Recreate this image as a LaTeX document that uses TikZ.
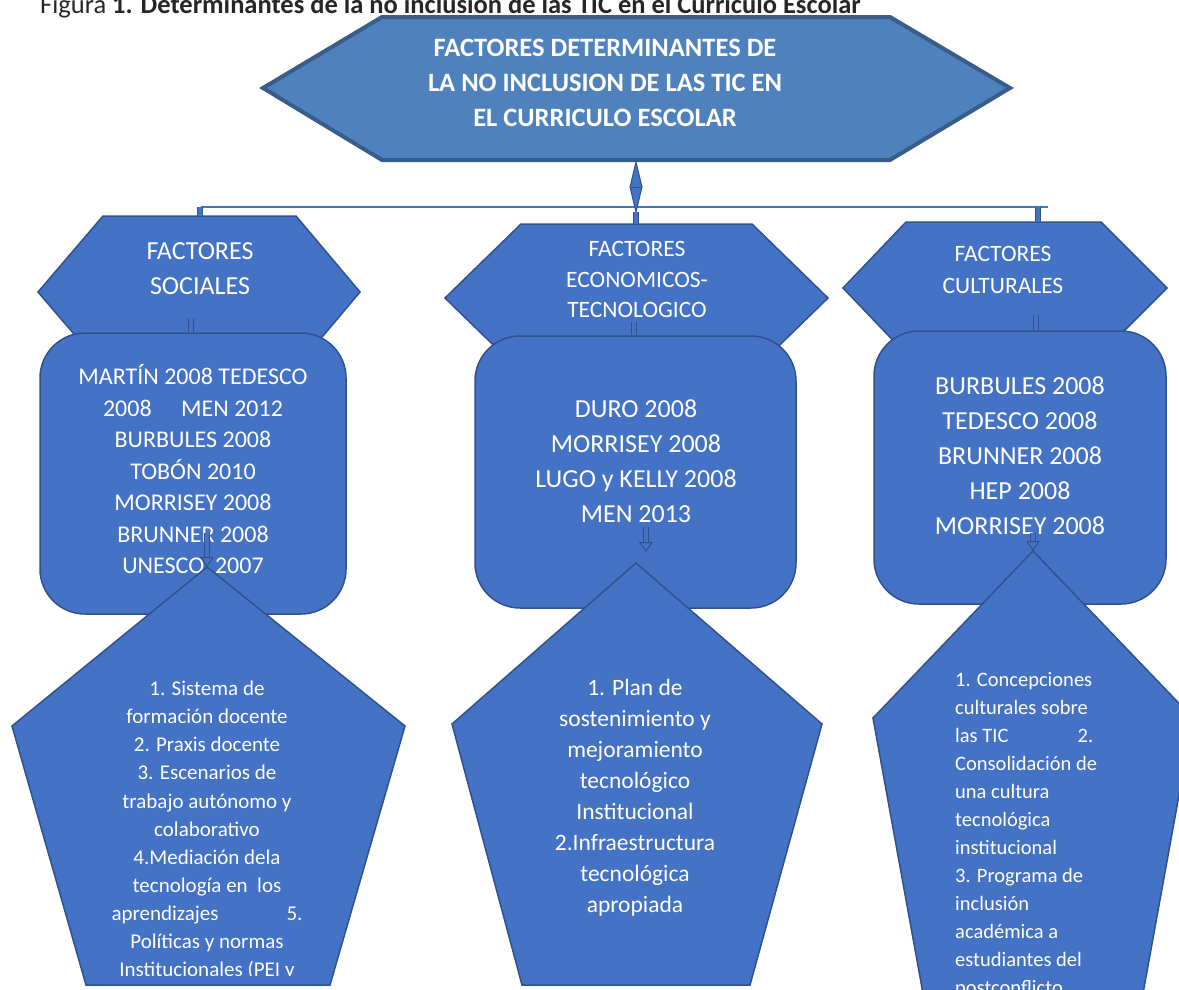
\documentclass[tikz,border=0pt]{standalone}
\usepackage{fontspec}
\setmainfont{Carlito}
\usetikzlibrary{arrows.meta}
\definecolor{boxblue}{HTML}{4472C4}
\definecolor{boxedge}{HTML}{2F528F}
\definecolor{topblue}{HTML}{4F81BD}
\definecolor{topedge}{HTML}{385D8A}
\newcommand\setfs[2]{\fontsize{#1}{#2}\selectfont}
\tikzset{shapefill/.style={fill=boxblue, draw=boxedge, line width=1.5pt},
    tophex/.style={fill=topblue, draw=topedge, line width=4pt},
    refbox/.style={shapefill, rounded corners=45pt, inner sep=0pt},
    wtext/.style={text=white, align=center, inner sep=0pt},
    hollowlink/.style={draw=boxedge, double=boxblue, double distance=4pt, line width=1pt},
    downarrow/.style={hollowlink, -{Triangle[length=10pt, width=14pt, fill=boxblue]}},
    busline/.style={draw=boxblue, line width=1.5pt}
}

\begin{document}
\begin{tikzpicture}[x=1pt,y=-1pt]
           \clip (0,0) rectangle (1179,989);
           \node[anchor=base west, text=black!85, inner sep=0pt, font=\setfs{26.5}{30}] (caption) at (40,13) {Figura \textbf{1. Determinantes de la no inclusión de las TIC en el Currículo Escolar}};
           \filldraw[tophex] (263,88) -- (382,17) -- (890,17) -- (1010,88) -- (890,160) -- (382,160) -- cycle;
           \node[wtext, font=\bfseries\setfs{26.5}{35}] (maintext) at (605,83) {FACTORES DETERMINANTES DE\\LA NO INCLUSION DE LAS TIC EN\\EL CURRICULO ESCOLAR};
           \coordinate (mainbot) at (636,162);
           \coordinate (bus-w) at (201,207);
           \coordinate (bus-e) at (1048,207);
           \draw[busline] (bus-w) -- (bus-e);
           \filldraw[shapefill, line width=1pt] (mainbot) -- ++(6,25) -- ++(-6,25) coordinate (bus-c) -- ++(-6,-25) -- cycle;
           \draw[boxedge, line width=1pt] (630,187) -- (642,187);
           % three factor hexagons
           \filldraw[shapefill] (38,292) -- (103,216) -- (296,216) -- (360,292) -- (296,368) -- (103,368) -- cycle;
           \filldraw[shapefill] (445,298) -- (521,224) -- (752,224) -- (828,298) -- (752,372) -- (521,372) -- cycle;
           \filldraw[shapefill] (843,288) -- (906,222) -- (1101,222) -- (1167,288) -- (1101,354) -- (906,354) -- cycle;
           \coordinate (social-top) at (200,216);
           \coordinate (econ-top) at (636,224);
           \coordinate (cult-top) at (1038,222);
           \draw[hollowlink] (social-top) -- (social-top |- bus-w);
           \draw[hollowlink] (bus-c) -- (econ-top);
           \draw[hollowlink] (cult-top) -- (cult-top |- bus-w);
           \node[wtext, font=\setfs{26}{35}] (social) at (200,268.5) {FACTORES\\SOCIALES};
           \node[wtext, font=\setfs{23.5}{30.5}] (econ) at (637,279.5) {FACTORES\\ECONOMICOS-\\TECNOLOGICO};
           \node[wtext, font=\setfs{23.5}{32}] (cult) at (1003,270) {FACTORES\\CULTURALES};
           % author boxes
           \node[refbox, minimum width=306pt, minimum height=281pt] (socialbox) at (193,473.5) {};
           \node[refbox, minimum width=321pt, minimum height=272pt] (econbox) at (635.5,472) {};
           \node[refbox, minimum width=292pt, minimum height=273pt] (cultbox) at (1020,467.5) {};
           \coordinate (social-link) at (191,318);
           \coordinate (econ-link) at (634,322);
           \coordinate (cult-link) at (1036,315);
           \draw[hollowlink] (social-link) -- (social-link |- socialbox.north);
           \draw[hollowlink] (econ-link) -- (econ-link |- econbox.north);
           \draw[hollowlink] (cult-link) -- (cult-link |- cultbox.north);
           \node[wtext, font=\setfs{24}{31.5}] (socialrefs) at (193,469.5) {MARTÍN 2008 TEDESCO\\2008\hspace{24pt} MEN 2012\\BURBULES 2008\\TOBÓN 2010\\MORRISEY 2008\\BRUNNER 2008\\UNESCO\ \ 2007};
           \node[wtext, font=\setfs{26}{35}] (econrefs) at (636,461.5) {DURO 2008\\MORRISEY 2008\\LUGO y KELLY 2008\\MEN 2013};
           \node[wtext, font=\setfs{26}{35}] (cultrefs) at (1020,456) {BURBULES 2008\\TEDESCO 2008\\BRUNNER 2008\\HEP 2008\\MORRISEY 2008};
           % pentagons
           \filldraw[shapefill] (207,567) coordinate (social-tip) -- (405,726) -- (330,985) -- (86,985) -- (12,726) -- cycle;
           \filldraw[shapefill] (636,563) coordinate (econ-tip) -- (822,724) -- (750,985) -- (522,985) -- (452,724) -- cycle;
           \filldraw[shapefill] (1033,551) coordinate (cult-tip) -- (1193,718) -- (1140,1010) -- (926,1010) -- (873,718) -- cycle;
           \begin{scope}
             \clip (0,600) rectangle (420,975);
             \node[wtext, font=\setfs{21}{28.1}] (socialitems) at (207,830.5) {1. Sistema de\\formación docente\\2. Praxis docente\\3. Escenarios de\\trabajo autónomo y\\colaborativo\\4.Mediación dela\\tecnología en\ \ los\\\makebox[191pt]{aprendizajes\hfill 5.}\\Políticas y normas\\Institucionales (PEI y};
           \end{scope}
           \node[wtext, font=\setfs{23.5}{31}] (econitems) at (635,798) {1. Plan de\\sostenimiento y\\mejoramiento\\tecnológico\\Institucional\\2.Infraestructura\\tecnológica\\apropiada};
           \node[wtext, align=left, anchor=west, font=\setfs{20.5}{28}] (cultitems) at (955,835) {1. Concepciones\\culturales sobre\\\makebox[138pt]{las TIC\hfill 2.}\\Consolidación de\\una cultura\\tecnológica\\institucional\\3. Programa de\\inclusión\\académica a\\estudiantes del\\postconflicto};
           \coordinate (social-arrow) at (207,533);
           \coordinate (econ-arrow) at (646,527);
           \coordinate (cult-arrow) at (1033,533);
           \draw[downarrow] (social-arrow) -- (social-tip);
           \draw[downarrow] (econ-arrow) -- (econ-arrow |- 0,552);
           \draw[downarrow] (cult-arrow) -- (cult-tip);
\end{tikzpicture}
\end{document}
